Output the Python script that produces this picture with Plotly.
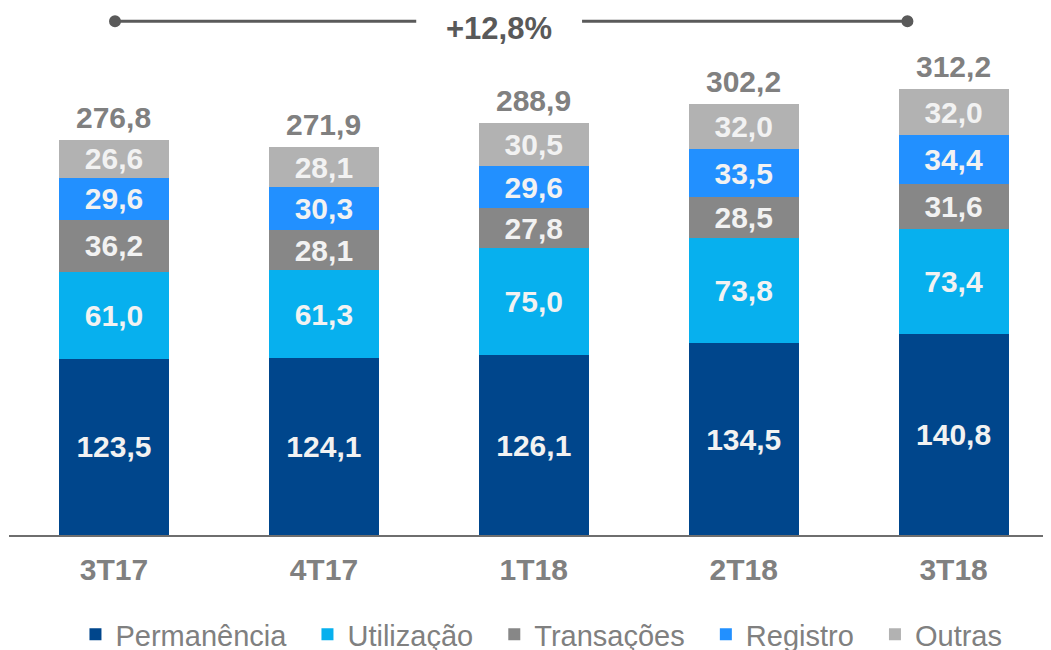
import plotly.graph_objects as go

categories = ["3T17", "4T17", "1T18", "2T18", "3T18"]
permanencia = [123.5, 124.1, 126.1, 134.5, 140.8]
utilizacao = [61.0, 61.3, 75.0, 73.8, 73.4]
transacoes = [36.2, 28.1, 27.8, 28.5, 31.6]
registro = [29.6, 30.3, 29.6, 33.5, 34.4]
outras = [26.6, 28.1, 30.5, 32.0, 32.0]
totals = [276.8, 271.9, 288.9, 302.2, 312.2]
growth_label = "+12,8%"

series = [
    ("Permanência", permanencia, "#00468C"),
    ("Utilização", utilizacao, "#07B0EE"),
    ("Transações", transacoes, "#878787"),
    ("Registro", registro, "#2290FF"),
    ("Outras", outras, "#B2B2B2"),
]

def fmt(v):
    return f"{v:.1f}".replace(".", ",")

FONT = "Liberation Sans"

fig = go.Figure()
for i, (name, vals, color) in enumerate(series):
    pad = "\u00a0\u00a0" if i < len(series) - 1 else ""
    fig.add_trace(go.Bar(
        name=name + pad, x=categories, y=vals,
        marker=dict(color=color, line=dict(width=0)),
        text=[fmt(v) for v in vals],
        textposition="inside", insidetextanchor="middle",
        textfont=dict(family=FONT, size=30, color="#F2F2F2", weight="bold"),
        hoverinfo="skip",
    ))

for c, t in zip(categories, totals):
    fig.add_annotation(
        x=c, y=t, xref="x", yref="y", text=fmt(t), showarrow=False,
        yanchor="bottom", yshift=4,
        font=dict(family=FONT, size=30, color="#808080", weight="bold"),
    )

# growth bracket
line_y = 0.975
fig.add_shape(type="line", xref="x", yref="paper", x0=0.005, x1=1.44, y0=line_y, y1=line_y,
              line=dict(color="#5A5A5A", width=3))
fig.add_shape(type="line", xref="x", yref="paper", x0=2.23, x1=3.78, y0=line_y, y1=line_y,
              line=dict(color="#5A5A5A", width=3))
for xc in [0.005, 3.78]:
    fig.add_shape(type="circle", xref="x", yref="paper", xsizemode="pixel", ysizemode="pixel",
                  xanchor=xc, yanchor=line_y, x0=-6, x1=6, y0=-6, y1=6,
                  fillcolor="#5A5A5A", line=dict(width=0))
fig.add_annotation(x=1.835, y=0.962, xref="x", yref="paper", text=growth_label, showarrow=False,
                   yanchor="middle",
                   font=dict(family=FONT, size=31, color="#595959", weight="bold"))

fig.update_layout(
    barmode="stack",
    bargap=0.476,
    width=1043, height=652,
    margin=dict(l=1, r=0, t=0, b=125),
    paper_bgcolor="white", plot_bgcolor="white",
    uniformtext=dict(mode="show", minsize=30),
    showlegend=True,
    legend=dict(orientation="h", x=0.511, xanchor="center", yref="container", y=0, yanchor="bottom",
                font=dict(family=FONT, size=29, color="#808080"),
                itemclick=False, traceorder="normal", bgcolor="rgba(0,0,0,0)"),
    xaxis=dict(range=[-0.5, 4.464], showline=True, linecolor="#6E6E6E", linewidth=2,
               showgrid=False, ticks="", ticklabelstandoff=7,
               tickfont=dict(family=FONT, size=30, color="#808080", weight="bold")),
    yaxis=dict(range=[0, 369.3], visible=False, showgrid=False, zeroline=False),
)

fig.write_html("out.html")
